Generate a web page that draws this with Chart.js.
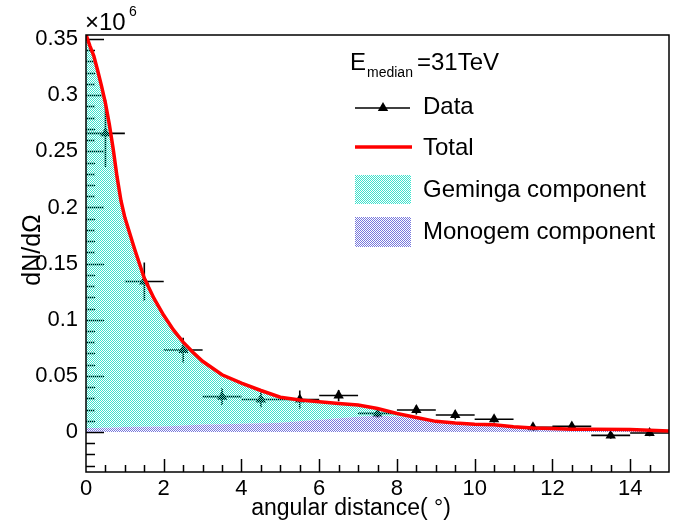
<!DOCTYPE html>
<html>
<head>
<meta charset="utf-8">
<script src="https://cdn.jsdelivr.net/npm/chart.js"></script>
<style>
  html, body { margin: 0; padding: 0; background: #fff; }
</style>
</head>
<body>
<canvas id="profile" width="675" height="523"></canvas>
<script>
// surface brightness profile, y in units of 1e6
const binCenters = [0.5, 1.5, 2.5, 3.5, 4.5, 5.5, 6.5, 7.5, 8.5, 9.5, 10.5, 11.5, 12.5, 13.5, 14.5];
const dataValues = [0.266, 0.134, 0.073, 0.0315, 0.029, 0.029, 0.0325, 0.0166, 0.0196, 0.0151, 0.0114, 0.0042, 0.005, -0.003, -0.0008];
const dataErrors = [0.03, 0.017, 0.011, 0.0075, 0.007, 0.008, 0.005, 0.004, 0.004, 0.004, 0.003, 0.003, 0.003, 0.003, 0.003];
const binHalfWidth = 0.5;

const curveX = [0, 0.1, 0.2, 0.3, 0.4, 0.5, 0.6, 0.7, 0.8, 0.9, 1.0, 1.25, 1.5, 1.75, 2.0, 2.25, 2.5, 2.75, 3.0, 3.5,
  4.0, 4.5, 5.0, 5.5, 6.0, 6.5, 7.0, 7.5, 8.0, 8.5, 9.0, 9.5, 10.0, 10.5, 11.0, 11.5, 12.0, 12.5, 13.0, 14.0, 15.0];
const totalValues = [0.354, 0.344, 0.335, 0.322, 0.308, 0.293, 0.274, 0.252, 0.227, 0.206, 0.191, 0.163, 0.137, 0.119, 0.104, 0.091, 0.080, 0.071, 0.063, 0.051,
  0.0435, 0.037, 0.031, 0.0285, 0.027, 0.0255, 0.024, 0.021, 0.0165, 0.013, 0.0095, 0.008, 0.007, 0.0065, 0.0048, 0.0035, 0.0032, 0.0024, 0.0024, 0.0022, 0.0009];
const gemingaValues = [0.3505, 0.3405, 0.3315, 0.3184, 0.3043, 0.2892, 0.2701, 0.248, 0.2229, 0.2017, 0.1865, 0.1583, 0.1322, 0.1141, 0.099, 0.0856, 0.0742, 0.0648, 0.0564, 0.044,
  0.0361, 0.0292, 0.0227, 0.019, 0.016, 0.0133, 0.0105, 0.0065, 0.0027, 0.0008, 0.0001, 0, 0, 0, 0, 0, 0, 0, 0, 0, 0];
const monogemValues = [0.0035, 0.0035, 0.0035, 0.0036, 0.0037, 0.0038, 0.0039, 0.004, 0.0041, 0.0043, 0.0045, 0.0047, 0.0048, 0.0049, 0.005, 0.0054, 0.0058, 0.0062, 0.0066, 0.007,
  0.0074, 0.0078, 0.0083, 0.0095, 0.011, 0.0122, 0.0135, 0.0145, 0.0138, 0.0122, 0.0094, 0.0079, 0.0069, 0.0064, 0.0047, 0.0034, 0.0031, 0.0023, 0.0023, 0.0021, 0.0008];

const xTickValues = [0, 2, 4, 6, 8, 10, 12, 14];
const yTickValues = [0, 0.05, 0.1, 0.15, 0.2, 0.25, 0.3, 0.35];

const FONT = "'Liberation Sans', Arial, sans-serif";
const canvas = document.getElementById('profile');
const ctx = canvas.getContext('2d');

// ROOT-like dithered fill: half the pixels coloured, half left open
function checker(color) {
  const pc = document.createElement('canvas');
  pc.width = 2;
  pc.height = 2;
  const p = pc.getContext('2d');
  p.fillStyle = color;
  p.fillRect(0, 0, 1, 1);
  p.fillRect(1, 1, 1, 1);
  return ctx.createPattern(pc, 'repeat');
}
const cyanFill = checker('rgb(60, 226, 204)');
const purpleFill = checker('rgb(120, 120, 220)');

function pts(xs, ys) {
  return xs.map((x, i) => ({ x: x, y: ys[i] }));
}

function triangle(c, x, y, r) {
  let rad = 0;
  c.beginPath();
  for (let k = 0; k < 3; k++) {
    c.lineTo(x + Math.sin(rad) * r, y - Math.cos(rad) * r);
    rad += 2 * Math.PI / 3;
  }
  c.closePath();
  c.fill();
}

// tick marks go under the fills, like in the original
const axisTicks = {
  id: 'axisTicks',
  beforeDatasetsDraw(chart) {
    const { ctx, chartArea: a, scales: { x, y } } = chart;
    ctx.save();
    ctx.strokeStyle = '#000';
    ctx.lineWidth = 1.5;
    ctx.beginPath();
    for (let k = 1; k < 30; k++) {
      const px = Math.round(x.getPixelForValue(k / 2)) + 0.5;
      const len = k % 4 === 0 ? 13 : 7;
      ctx.moveTo(px, a.bottom);
      ctx.lineTo(px, a.bottom - len);
    }
    for (let k = -3; k <= 35; k++) {
      const py = Math.round(y.getPixelForValue(k / 100)) + 0.5;
      const len = k % 5 === 0 ? 18 : 9;
      ctx.moveTo(a.left, py);
      ctx.lineTo(a.left + len, py);
    }
    ctx.stroke();
    ctx.restore();
  }
};

const errorBars = {
  id: 'errorBars',
  beforeDatasetsDraw(chart) {
    const { ctx, scales: { x, y } } = chart;
    ctx.save();
    ctx.strokeStyle = '#000';
    ctx.lineWidth = 1.6;
    ctx.beginPath();
    binCenters.forEach((c, i) => {
      const px = x.getPixelForValue(c);
      const py = y.getPixelForValue(dataValues[i]);
      ctx.moveTo(x.getPixelForValue(c - binHalfWidth), py);
      ctx.lineTo(x.getPixelForValue(c + binHalfWidth), py);
      ctx.moveTo(px, y.getPixelForValue(dataValues[i] - dataErrors[i]));
      ctx.lineTo(px, y.getPixelForValue(dataValues[i] + dataErrors[i]));
    });
    ctx.stroke();
    ctx.restore();
  }
};

const frame = {
  id: 'frame',
  afterDatasetsDraw(chart) {
    const { ctx, chartArea: a } = chart;
    ctx.save();
    ctx.strokeStyle = '#000';
    ctx.lineWidth = 1.5;
    ctx.strokeRect(a.left, a.top, a.right - a.left, a.bottom - a.top);
    ctx.restore();
  }
};

const texts = {
  id: 'texts',
  afterDraw(chart) {
    const c = chart.ctx;
    c.save();
    c.fillStyle = '#000';
    c.textBaseline = 'alphabetic';

    // exponent
    c.font = '24px ' + FONT;
    c.fillText('\u00d710', 85, 30);
    c.font = '14px ' + FONT;
    c.fillText('6', 129, 16);

    // axis titles
    c.font = '23px ' + FONT;
    c.textAlign = 'center';
    c.fillText('angular distance( \u00b0)', 351, 515);
    c.save();
    c.translate(40, 250);
    c.rotate(-Math.PI / 2);
    c.font = '25px ' + FONT;
    c.fillText('dN/d\u03a9', 0, 0);
    c.restore();

    // legend
    c.textAlign = 'left';
    c.font = '24px ' + FONT;
    c.fillText('E', 350, 70);
    c.font = '14px ' + FONT;
    c.fillText('median', 367, 77);
    c.font = '24px ' + FONT;
    c.fillText('=31TeV', 417, 70);

    c.strokeStyle = '#000';
    c.lineWidth = 1.5;
    c.beginPath();
    c.moveTo(355, 108);
    c.lineTo(410, 108);
    c.stroke();
    triangle(c, 383, 108, 6);
    c.fillText('Data', 423, 114);

    c.strokeStyle = 'rgb(255, 0, 0)';
    c.lineWidth = 3.5;
    c.beginPath();
    c.moveTo(355, 147);
    c.lineTo(412, 147);
    c.stroke();
    c.fillText('Total', 423, 155);

    c.fillStyle = cyanFill;
    c.fillRect(355, 175, 56, 29);
    c.fillStyle = purpleFill;
    c.fillRect(355, 217, 56, 30);
    c.fillStyle = '#000';
    c.fillText('Geminga component', 423, 197);
    c.fillText('Monogem component', 423, 239);
    c.restore();
  }
};

const chart = new Chart(ctx, {
  type: 'line',
  data: {
    datasets: [
      {
        label: 'Data',
        data: pts(binCenters, dataValues),
        stack: 'data',
        showLine: false,
        pointStyle: 'triangle',
        pointRadius: 6,
        pointBackgroundColor: '#000',
        pointBorderWidth: 0,
        order: 4
      },
      {
        label: 'Monogem component',
        data: pts(curveX, monogemValues),
        stack: 'comp',
        fill: 'origin',
        backgroundColor: purpleFill,
        borderWidth: 0,
        pointRadius: 0,
        order: 2
      },
      {
        label: 'Geminga component',
        data: pts(curveX, gemingaValues),
        stack: 'comp',
        fill: '-1',
        backgroundColor: cyanFill,
        borderWidth: 0,
        pointRadius: 0,
        order: 3
      },
      {
        label: 'Total',
        data: pts(curveX, totalValues),
        stack: 'total',
        fill: false,
        borderColor: 'rgb(255, 0, 0)',
        borderWidth: 3.5,
        pointRadius: 0,
        tension: 0,
        order: 1
      }
    ]
  },
  options: {
    responsive: false,
    animation: false,
    devicePixelRatio: 1,
    layout: { padding: { top: 35, right: 2, left: 0, bottom: 0 } },
    plugins: { legend: { display: false }, tooltip: { enabled: false } },
    scales: {
      x: {
        type: 'linear',
        min: 0,
        max: 15,
        grid: { display: false, drawTicks: false },
        border: { display: false },
        ticks: { color: '#000', padding: 4, font: { family: FONT, size: 22 } },
        afterBuildTicks(s) { s.ticks = xTickValues.map(v => ({ value: v })); },
        afterFit(s) { s.height = 51; }
      },
      y: {
        type: 'linear',
        stacked: true,
        min: -0.0356,
        max: 0.3536,
        grid: { display: false, drawTicks: false },
        border: { display: false },
        ticks: {
          color: '#000',
          padding: 8,
          font: { family: FONT, size: 22 },
          callback: v => String(+v.toFixed(2))
        },
        afterBuildTicks(s) { s.ticks = yTickValues.map(v => ({ value: v })); },
        afterFit(s) { s.width = 86; }
      }
    }
  },
  plugins: [axisTicks, errorBars, frame, texts]
});
</script>
</body>
</html>
